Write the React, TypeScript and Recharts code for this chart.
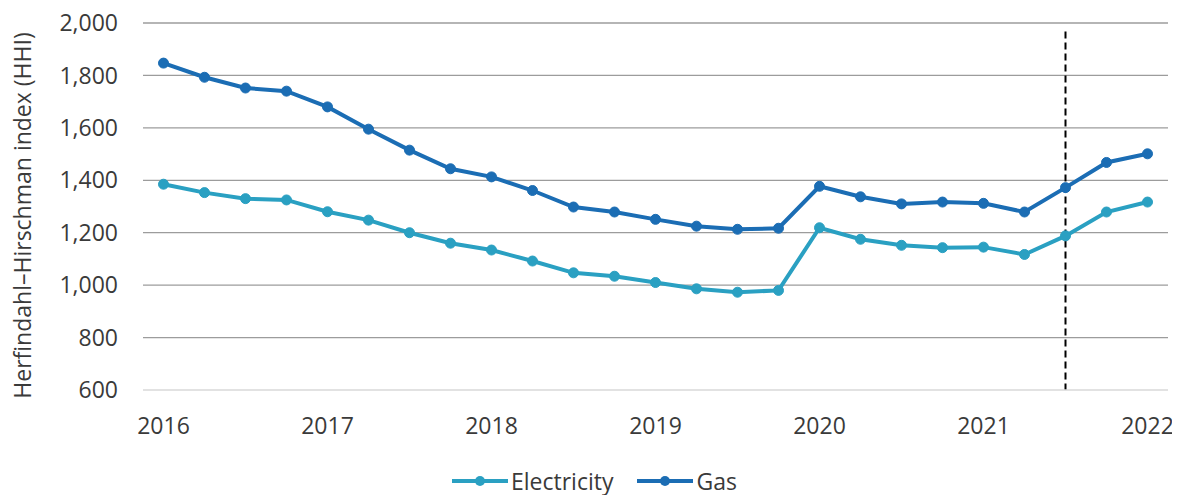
import React from 'react';
import {
  LineChart,
  Line,
  XAxis,
  YAxis,
  CartesianGrid,
  ReferenceLine,
  Legend,
} from 'recharts';

// Quarterly observations, 2016 Q1 through 2022 Q1
const quarters = [
  '2016 Q1', '2016 Q2', '2016 Q3', '2016 Q4',
  '2017 Q1', '2017 Q2', '2017 Q3', '2017 Q4',
  '2018 Q1', '2018 Q2', '2018 Q3', '2018 Q4',
  '2019 Q1', '2019 Q2', '2019 Q3', '2019 Q4',
  '2020 Q1', '2020 Q2', '2020 Q3', '2020 Q4',
  '2021 Q1', '2021 Q2', '2021 Q3', '2021 Q4',
  '2022 Q1',
];

const electricity = [
  1385, 1353, 1330, 1325,
  1280, 1248, 1200, 1160,
  1134, 1092, 1047, 1034,
  1010, 986, 973, 980,
  1219, 1175, 1152, 1143,
  1145, 1117, 1188, 1279,
  1317,
];

const gas = [
  1847, 1793, 1752, 1740,
  1680, 1595, 1515, 1444,
  1413, 1361, 1298, 1279,
  1251, 1225, 1213, 1217,
  1377, 1337, 1310, 1317,
  1312, 1279, 1372, 1468,
  1501,
];

const yearLabels = ['2016', '2017', '2018', '2019', '2020', '2021', '2022'];
const yearTickIndex = [0, 4, 8, 12, 16, 20, 24];
const yTicks = [600, 800, 1000, 1200, 1400, 1600, 1800, 2000];
const gridValues = [800, 1000, 1200, 1400, 1600, 1800, 2000];

// Marker for the start of the latest period
const markerQuarter = '2021 Q3';

const data = quarters.map((q, i) => ({
  i,
  quarter: q,
  Electricity: electricity[i],
  Gas: gas[i],
}));

const ELEC_COLOR = '#2aa0c2';
const GAS_COLOR = '#1b6db4';
const TEXT_COLOR = '#3a3a3a';
const FONT = '"Open Sans", sans-serif';

const fmt = (v: number) => v.toLocaleString('en-US');

const LegendContent = (props: any) => {
  const items = props.payload || [];
  return (
    <div
      style={{
        display: 'flex',
        alignItems: 'center',
        marginLeft: 452,
        fontFamily: FONT,
        fontSize: 23,
        color: TEXT_COLOR,
        height: 30,
      }}
    >
      {items.map((it: any, k: number) => (
        <div
          key={it.value}
          style={{ display: 'flex', alignItems: 'center', marginRight: k === 0 ? 24 : 0 }}
        >
          <svg width={56} height={14} style={{ display: 'block' }}>
            <line x1={0} y1={7} x2={56} y2={7} stroke={it.color} strokeWidth={4} />
            <circle cx={28} cy={7} r={5} fill={it.color} />
          </svg>
          <span style={{ marginLeft: 3, lineHeight: '30px' }}>{it.value}</span>
        </div>
      ))}
    </div>
  );
};

const YLabel = (props: any) => {
  const vb = props.viewBox || { x: 0, y: 0, width: 0, height: 0 };
  const x = 31;
  const y = vb.y + vb.height / 2 + 9;
  return (
    <text
      x={x}
      y={y}
      transform={`rotate(-90, ${x}, ${y})`}
      textAnchor="middle"
      fill={TEXT_COLOR}
      fontFamily={FONT}
      fontSize={23}
    >
      Herfindahl–Hirschman index (HHI)
    </text>
  );
};

export default function App() {
  const markerIndex = quarters.indexOf(markerQuarter);
  return (
    <div style={{ margin: '-8px 0 0 -8px', width: 1180, height: 495 }}>
      <LineChart
        width={1180}
        height={495}
        data={data}
        margin={{ top: 23, right: 12, left: 0, bottom: 8 }}
        style={{ fontFamily: FONT }}
      >
        <CartesianGrid
          horizontal
          vertical={false}
          horizontalValues={gridValues}
          stroke="#9c9c9c"
          strokeWidth={1.3}
        />
        <XAxis
          dataKey="i"
          type="number"
          domain={[-0.5, 24.5]}
          ticks={yearTickIndex}
          tickFormatter={(v: number) => yearLabels[yearTickIndex.indexOf(v)] ?? ''}
          tickLine={false}
          tickSize={0}
          tickMargin={28}
          axisLine={{ stroke: '#d9d9d9', strokeWidth: 1.3 }}
          tick={{ fill: TEXT_COLOR, fontSize: 23, fontFamily: FONT }}
          height={67}
          allowDataOverflow
        />
        <YAxis
          type="number"
          domain={[600, 2000]}
          ticks={yTicks}
          tickFormatter={fmt}
          tickLine={false}
          axisLine={false}
          tickSize={0}
          tickMargin={25}
          width={143}
          tick={{ fill: TEXT_COLOR, fontSize: 23, fontFamily: FONT }}
          label={<YLabel />}
        />
        <ReferenceLine
          segment={[
            { x: markerIndex, y: 1968 },
            { x: markerIndex, y: 600 },
          ]}
          stroke="#000000"
          strokeWidth={2}
          strokeDasharray="7 4"
        />
        <Line
          type="linear"
          dataKey="Electricity"
          stroke={ELEC_COLOR}
          strokeWidth={4}
          dot={{ r: 5, fill: ELEC_COLOR, stroke: ELEC_COLOR, strokeWidth: 1 }}
          activeDot={false}
          isAnimationActive={false}
        />
        <Line
          type="linear"
          dataKey="Gas"
          stroke={GAS_COLOR}
          strokeWidth={4}
          dot={{ r: 5, fill: GAS_COLOR, stroke: GAS_COLOR, strokeWidth: 1 }}
          activeDot={false}
          isAnimationActive={false}
        />
        <Legend
          content={<LegendContent />}
          wrapperStyle={{ position: 'absolute', left: 0, top: 466, width: 1180 }}
        />
      </LineChart>
    </div>
  );
}
